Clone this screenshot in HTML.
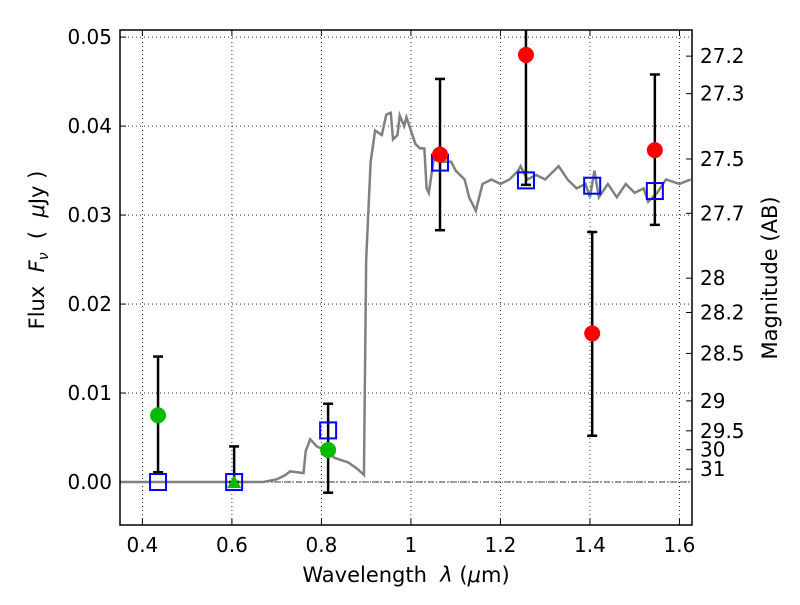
<!DOCTYPE html>
<html><head><meta charset="utf-8"><style>
body{margin:0;background:#fff}
svg text{font-family:"DejaVu Sans","Liberation Sans",sans-serif;fill:#000;white-space:pre}
</style></head><body>
<svg id="c" width="800" height="600" xmlns="http://www.w3.org/2000/svg"></svg>
<script>
const specX=[0.35,0.67,0.7,0.72,0.73,0.76,0.765,0.775,0.79,0.81,0.83,0.86,0.88,0.895,0.9,0.91,0.92,0.935,0.945,0.955,0.96,0.97,0.975,0.985,0.99,1.0,1.01,1.02,1.03,1.035,1.04,1.05,1.06,1.07,1.09,1.1,1.12,1.13,1.145,1.16,1.18,1.2,1.22,1.24,1.245,1.26,1.28,1.3,1.33,1.35,1.37,1.39,1.4,1.41,1.42,1.44,1.46,1.48,1.5,1.52,1.53,1.55,1.57,1.6,1.625];
const specY=[0,0,0.0003,0.0008,0.0012,0.001,0.0035,0.0048,0.004,0.0035,0.0027,0.0022,0.0015,0.0008,0.025,0.036,0.0395,0.039,0.0413,0.0415,0.0385,0.039,0.0412,0.04,0.041,0.0395,0.038,0.0375,0.0375,0.033,0.0325,0.036,0.037,0.036,0.036,0.035,0.034,0.032,0.0305,0.0335,0.034,0.0335,0.034,0.035,0.0355,0.034,0.0345,0.034,0.0355,0.034,0.033,0.0335,0.032,0.035,0.032,0.0335,0.032,0.0335,0.0325,0.033,0.0315,0.0325,0.034,0.0335,0.034];
const greenX=[0.435,0.815], greenY=[0.0075,0.0036], greenLo=[0.0011,-0.0012], greenHi=[0.0141,0.0088];
const triX=[0.605], triY=[0], triLo=[0], triHi=[0.004];
const redX=[1.065,1.257,1.405,1.545], redY=[0.0368,0.048,0.0167,0.0373], redLo=[0.0283,0.0334,0.0052,0.0289], redHi=[0.0453,0.052,0.0281,0.0458];
const sqX=[0.435,0.605,0.815,1.065,1.257,1.405,1.545], sqY=[0,0,0.0058,0.0359,0.0339,0.0333,0.0327];
const xTicks=[0.4,0.6,0.8,1,1.2,1.4,1.6], xTickLabels=["0.4","0.6","0.8","1","1.2","1.4","1.6"];
const yTicks=[0,0.01,0.02,0.03,0.04,0.05], yTickLabels=["0.00","0.01","0.02","0.03","0.04","0.05"];
const magTicks=[27.2,27.3,27.5,27.7,28,28.2,28.5,29,29.5,30,31];

const L=120,R=692,T=30,B=525,X0=0.35,X1=1.628,Y0=-0.00483,Y1=0.0508;
const sx=v=>L+(v-X0)/(X1-X0)*(R-L), sy=v=>B-(v-Y0)/(Y1-Y0)*(B-T);
const svg=document.getElementById('c'),NS='http://www.w3.org/2000/svg';
function mk(t,a,p){const e=document.createElementNS(NS,t);for(const k in a)e.setAttribute(k,a[k]);(p||svg).appendChild(e);return e;}
const clip=mk('clipPath',{id:'cp'});mk('rect',{x:L,y:T,width:R-L,height:B-T},clip);
const grid=mk('g',{});
xTicks.forEach((v,i)=>{const x=sx(v);
 mk('line',{x1:x,x2:x,y1:T,y2:B,stroke:'#000','stroke-width':0.8,'stroke-dasharray':'1,3'},grid);
 mk('line',{x1:x,x2:x,y1:B,y2:B-6,stroke:'#000'});mk('line',{x1:x,x2:x,y1:T,y2:T+6,stroke:'#000'});
 const t=mk('text',{x:x,y:B+27,'text-anchor':'middle','font-size':20});t.textContent=xTickLabels[i];
 });
yTicks.forEach((v,i)=>{const y=sy(v);
 mk('line',{x1:L,x2:R,y1:y,y2:y,stroke:'#000','stroke-width':0.8,'stroke-dasharray':'1,3'},grid);
 mk('line',{x1:L,x2:L+6,y1:y,y2:y,stroke:'#000'});
 const t=mk('text',{x:L-8,y:y+7,'text-anchor':'end','font-size':20});t.textContent=yTickLabels[i];
 });
magTicks.forEach(m=>{const y=sy(Math.pow(10,(23.9-m)/2.5));
 mk('line',{x1:R,x2:R-6,y1:y,y2:y,stroke:'#000'});
 const t=mk('text',{x:R+8,y:y+7,'font-size':20});t.textContent=String(m);
 });
const zl=mk('line',{x1:L,x2:R,y1:sy(0),y2:sy(0),stroke:'#000','stroke-width':0.8,'stroke-dasharray':'6,2,1,2'});

const g=mk('g',{'clip-path':'url(#cp)'});
const sp=mk('polyline',{points:specX.map((v,i)=>sx(v)+','+sy(specY[i])).join(' '),fill:'none',stroke:'#808080','stroke-width':2.5},g);

function eb(xs,lo,hi){xs.forEach((v,i)=>{const x=sx(v);
 const e=mk('line',{x1:x,x2:x,y1:sy(lo[i]),y2:sy(hi[i]),stroke:'#000','stroke-width':2.5},g);
 
 [lo[i],hi[i]].forEach(w=>mk('line',{x1:x-5,x2:x+5,y1:sy(w),y2:sy(w),stroke:'#000','stroke-width':2.5},g));});}
eb(greenX,greenLo,greenHi);eb(triX,triLo,triHi);eb(redX,redLo,redHi);
sqX.forEach((v,i)=>{const s=mk('rect',{x:sx(v)-8,y:sy(sqY[i])-8,width:16,height:16,fill:'none',stroke:'#0000ff','stroke-width':2},g);
 });
greenX.forEach((v,i)=>{const c=mk('circle',{cx:sx(v),cy:sy(greenY[i]),r:8,fill:'#00bb00'},g);
 });
triX.forEach((v,i)=>{const x=sx(v),y=sy(triY[i]);const p=mk('polygon',{points:`${x-7},${y+6} ${x+7},${y+6} ${x},${y-7}`,fill:'#00bb00'},g);
 });
redX.forEach((v,i)=>{const c=mk('circle',{cx:sx(v),cy:sy(redY[i]),r:8,fill:'#ff0000'},g);
 });
const fr=mk('rect',{x:L,y:T,width:R-L,height:B-T,fill:'none',stroke:'#000','stroke-width':1.5});

let t=mk('text',{x:406,y:582,'text-anchor':'middle','font-size':21});t.innerHTML='Wavelength  <tspan font-style="italic">λ</tspan> (<tspan font-style="italic">μ</tspan>m)';

t=mk('text',{x:44,y:250,'text-anchor':'middle','font-size':21,transform:'rotate(-90 44 250)'});t.innerHTML='Flux  <tspan font-style="italic">F<tspan font-size="14" dy="4">ν</tspan></tspan><tspan dy="-4">  (  </tspan><tspan font-style="italic">μ</tspan>Jy )';

t=mk('text',{x:777,y:278,'text-anchor':'middle','font-size':21,transform:'rotate(-90 777 278)'});t.textContent='Magnitude (AB)';

</script>
</body></html>
